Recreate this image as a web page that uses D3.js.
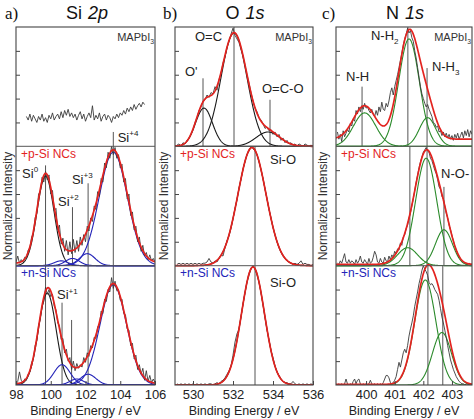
<!DOCTYPE html>
<html><head><meta charset="utf-8">
<script src="https://cdn.jsdelivr.net/npm/d3@7"></script>
<style>body{margin:0;background:#fff}text{font-family:"Liberation Sans",Arial,sans-serif}</style>
</head><body><svg id="c" width="474" height="419"></svg>
<script>
// ---------- DATA ----------
const siTicks = [98, 100, 102, 104, 106];
const oTicks = [530, 532, 534, 536];
const nTicks = [400, 401, 402, 403];

// Si 2p raw spectra (step 0.1 eV)
const siTopStart = 98.6;
const siTopRaw = [.25,.22,.27,.21,.26,.23,.20,.25,.22,.27,
  .21,.24,.20,.26,.23,.28,.22,.25,.27,.23,
  .29,.24,.30,.26,.31,.25,.28,.24,.27,.22,
  .26,.29,.23,.27,.21,.25,.28,.24,.34,.22,
  .26,.23,.28,.21,.25,.27,.22,.26,.24,.20,
  .25,.23,.27,.24,.28,.26,.30,.27,.32,.29,
  .33,.30,.35,.31,.34,.36,.33,.37,.35];
const siStart = 98.0;
const siPRaw = [.03,.08,.02,.05,.03,.07,.06,.13,.15,.24,
  .27,.40,.44,.60,.62,.74,.70,.79,.72,.76,
  .60,.63,.46,.48,.30,.34,.18,.23,.12,.21,
  .09,.20,.10,.22,.11,.21,.12,.24,.17,.26,
  .20,.33,.29,.40,.37,.50,.47,.62,.58,.73,
  .70,.86,.82,.95,.90,1.0,.93,.99,.90,.93,
  .82,.85,.70,.73,.56,.60,.42,.45,.30,.33,
  .20,.24,.12,.17,.08,.11,.05,.09,.04,.06,.03];
const siNRaw = [.01,.03,.11,.04,.02,.05,.04,.09,.11,.19,
  .22,.33,.37,.50,.55,.66,.70,.82,.76,.80,
  .74,.76,.66,.63,.52,.50,.38,.39,.27,.30,
  .20,.23,.13,.20,.12,.18,.14,.17,.15,.23,
  .19,.27,.24,.33,.31,.40,.39,.49,.50,.62,
  .60,.72,.70,.80,.78,.90,.81,.87,.79,.80,
  .71,.72,.60,.59,.47,.46,.33,.35,.22,.25,
  .13,.17,.09,.14,.04,.12,.03,.08,.02,.05,.02];
// Si 2p fitted components
const siPCenters = [99.7, 100.6, 101.25, 102.1, 103.6];
const siPHeights = [0.75, 0.04, 0.06, 0.10, 0.95];
const siPFwhm = [1.15, 0.94, 0.94, 1.06, 1.91];
const siPBase = 0.02;
const siNCenters = [99.8, 100.65, 101.5, 102.15, 103.6];
const siNHeights = [0.77, 0.17, 0.05, 0.09, 0.84];
const siNFwhm = [1.2, 1.1, 0.94, 1.06, 1.79];
const siNBase = 0.01;

// O 1s raw spectra (step 0.1 eV)
const oStart = 529.2;
const oTopRaw = [.01,.02,.00,.03,.02,.05,.07,.10,.14,.20,
  .24,.30,.33,.38,.39,.43,.41,.45,.44,.50,
  .47,.56,.61,.70,.75,.83,.88,.94,.99,.93,
  .90,.87,.81,.76,.68,.60,.53,.45,.38,.32,
  .29,.24,.22,.19,.15,.16,.13,.14,.10,.12,
  .08,.10,.05,.07,.03,.05,.02,.03,.01,.02,
  .00,.02,.01,.00,.02,.01,.00,.01,.00];
const oPRaw = [.01,.02,.01,.02,.01,.02,.01,.02,.01,.02,
  .01,.02,.01,.02,.02,.03,.06,.03,.02,.04,
  .03,.06,.09,.08,.15,.21,.25,.31,.39,.48,
  .55,.65,.72,.81,.87,.93,.96,1.0,.98,.96,
  .93,.87,.80,.73,.64,.56,.47,.40,.32,.26,
  .20,.15,.11,.08,.06,.04,.03,.02,.01,.02,
  .01,.02,.04,.01,.02,.01,.01,.00,.01];
const oNRaw = [.01,.00,.01,.00,.01,.00,.01,.00,.01,.00,
  .01,.00,.01,.00,.01,.00,.01,.01,.00,.01,
  .02,.01,.03,.04,.06,.09,.12,.16,.25,.36,
  .43,.47,.57,.68,.77,.86,.92,.97,1.0,.97,
  .92,.86,.77,.67,.56,.46,.38,.29,.23,.16,
  .11,.08,.05,.03,.02,.02,.01,.01,.03,.01,
  .00,.01,.00,.01,.00,.01,.00,.01,.00];
const oTopCenters = [530.55, 532.05, 533.75];
const oTopHeights = [0.32, 0.95, 0.12];
const oTopFwhm = [1.0, 1.53, 1.41];
const oPCenters = [532.95];
const oPHeights = [0.99];
const oPFwhm = [1.65];
const oNCenters = [533.0];
const oNHeights = [0.99];
const oNFwhm = [1.35];

// N 1s raw spectra (step 0.05 eV)
const nStart = 399.0;
const nTopRaw = [.12,.06,.10,.04,.13,.08,.11,.14,.12,.19,.17,.23,.21,.30,.27,.33,.29,.34,.31,.36,
  .32,.33,.30,.28,.31,.27,.25,.30,.26,.33,.29,.37,.31,.30,.36,.33,.38,.45,.49,.43,
  .50,.55,.60,.66,.72,.78,.85,.90,.94,.99,.95,.97,.91,.88,.80,.74,.66,.58,.50,.44,
  .40,.36,.33,.35,.31,.28,.25,.20,.19,.16,.17,.12,.13,.09,.12,.08,.11,.07,.10,.06,
  .09,.05,.10,.07,.11,.06,.09,.12,.07,.13,.09,.14,.08,.13,.10];
const nPRaw = [.02,.01,.04,.02,.06,.10,.03,.02,.05,.02,.04,.03,.01,.05,.02,.04,.08,.03,.02,.05,
  .03,.01,.06,.02,.03,.07,.12,.09,.03,.02,.06,.03,.02,.07,.04,.03,.08,.05,.09,.07,
  .12,.10,.14,.13,.19,.17,.24,.26,.31,.34,.40,.44,.50,.56,.63,.70,.76,.82,.87,.91,
  .95,.97,.99,.96,.95,.90,.88,.84,.80,.77,.72,.66,.64,.58,.56,.50,.44,.40,.34,.30,
  .25,.21,.16,.13,.10,.07,.06,.04,.03,.02,.02,.01,.02,.01,.01];
const nNRaw = [.00,.01,.00,.01,.00,.01,.05,.01,.00,.01,.00,.03,.05,.01,.04,.05,.01,.00,.01,.00,
  .01,.00,.01,.04,.01,.00,.01,.00,.01,.00,.01,.00,.02,.05,.08,.08,.06,.02,.01,.02,
  .04,.07,.13,.19,.15,.21,.27,.30,.27,.33,.41,.47,.52,.58,.66,.72,.78,.85,.90,.96,
  1.0,.97,.95,.92,.86,.84,.85,.83,.80,.78,.76,.71,.64,.57,.52,.46,.40,.33,.27,.21,
  .17,.13,.10,.07,.05,.03,.02,.01,.01,.00,.01,.00,.01,.00,.00];
const nTopCenters = [399.95, 401.5, 402.15];
const nTopHeights = [0.28, 0.90, 0.24];
const nTopFwhm = [0.92, 0.85, 0.68];
const nTopBase = 0.06;
const nPCenters = [401.45, 402.1, 402.72];
const nPHeights = [0.15, 0.90, 0.30];
const nPFwhm = [0.82, 0.87, 0.70];
const nPBase = 0.01;
const nNCenters = [402.07, 402.65];
const nNHeights = [0.88, 0.44];
const nNFwhm = [0.87, 0.78];
const nNBase = 0.005;

// ---------- DRAWING ----------
const svg = d3.select("#c");
const subTop = [27, 146.3, 265.7], subH = 119.3, frameTop = 27, frameBot = 385;
const RED = "#e3231f", BLUE = "#2323b8", GREEN = "#2b8a2b", BLK = "#1a1a1a";
const gauss = (e, c, h, w) => h * Math.exp(-4 * Math.LN2 * (e - c) * (e - c) / (w * w));

const panels = [
  { id: "a", domain: [98, 106], left: 16, right: 155, ticks: siTicks,
    letter: "a)", letterX: 5, title: ["Si", "2p"], titleX: 87, ylabX: 12,
    subs: [
      { raw: siTopRaw, start: siTopStart, step: 0.1 },
      { raw: siPRaw, start: siStart, step: 0.1, c: siPCenters, h: siPHeights, w: siPFwhm, base: siPBase,
        colors: [BLK, BLUE, BLUE, BLUE, BLUE] },
      { raw: siNRaw, start: siStart, step: 0.1, c: siNCenters, h: siNHeights, w: siNFwhm, base: siNBase,
        colors: [BLK, BLUE, BLUE, BLUE, BLUE] } ],
    vlines: [[0, 103.6, 0.12, 1], [1, 99.7, 0.84, 1], [1, 101.25, 0.49, 1], [1, 102.15, 0.69, 1],
             [2, 99.7, 1, 2], [2, 100.65, 0.69, 2], [2, 101.2, 0.545, 2], [2, 102.15, 1, 2], [2, 103.6, 1, 2]],
    labels: [[0, 103.85, 0.04, [["Si"], ["+4", "sup"]]], [1, 98.35, 0.735, [["Si"], ["0", "sup"]]],
             [1, 100.42, 0.50, [["Si"], ["+2", "sup"]]], [1, 101.22, 0.685, [["Si"], ["+3", "sup"]]],
             [2, 100.36, 0.72, [["Si"], ["+1", "sup"]]]] },
  { id: "b", domain: [529.1, 536], left: 175, right: 313, ticks: oTicks,
    letter: "b)", letterX: 163, title: ["O", "1s"], titleX: 245, ylabX: 168,
    subs: [
      { raw: oTopRaw, start: oStart, step: 0.1, c: oTopCenters, h: oTopHeights, w: oTopFwhm, base: 0, colors: [BLK, BLK, BLK] },
      { raw: oPRaw, start: oStart, step: 0.1, c: oPCenters, h: oPHeights, w: oPFwhm, base: 0, colors: [BLK] },
      { raw: oNRaw, start: oStart, step: 0.1, c: oNCenters, h: oNHeights, w: oNFwhm, base: 0, colors: [BLK] } ],
    vlines: [[0, 530.5, 0.57, 0], [0, 532.05, 1, 0], [0, 533.85, 0.39, 0], [1, 533.1, 1, 1], [2, 533.1, 1, 2]],
    labels: [[0, 530.1, 0.883, [["O=C"]]], [0, 529.6, 0.59, [["O'"]]], [0, 533.45, 0.447, [["O=C-O"]]],
             [1, 533.85, 0.85, [["Si-O"]]], [2, 533.85, 0.82, [["Si-O"]]]] },
  { id: "c", domain: [398.95, 403.7], left: 336, right: 472, ticks: nTicks,
    letter: "c)", letterX: 322, title: ["N", "1s"], titleX: 405, ylabX: 327,
    subs: [
      { raw: nTopRaw, start: nStart, step: 0.05, c: nTopCenters, h: nTopHeights, w: nTopFwhm, base: nTopBase, colors: [GREEN, GREEN, GREEN] },
      { raw: nPRaw, start: nStart, step: 0.05, c: nPCenters, h: nPHeights, w: nPFwhm, base: nPBase, colors: [GREEN, GREEN, GREEN] },
      { raw: nNRaw, start: nStart, step: 0.05, c: nNCenters, h: nNHeights, w: nNFwhm, base: nNBase, colors: [GREEN, GREEN] } ],
    vlines: [[0, 399.86, 0.5, 0], [0, 401.46, 1, 0], [0, 402.13, 0.656, 0], [1, 401.53, 1, 1], [1, 402.13, 1, 1],
             [1, 402.72, 0.66, 1], [2, 402.16, 1, 2], [2, 402.68, 1, 2]],
    labels: [[0, 400.17, 0.89, [["N-H"], ["2", "sub"]]], [0, 399.3, 0.546, [["N-H"]]],
             [0, 402.3, 0.63, [["N-H"], ["3", "sub"]]], [1, 402.62, 0.735, [["N-O-"]]]] }
];

function addSegs(t, segs, size) {
  segs.forEach(s => {
    const sp = t.append("tspan").text(s[0]);
    if (s[1] === "sup") sp.attr("dy", -size * 0.42).attr("font-size", size * 0.62);
    if (s[1] === "sub") sp.attr("dy", size * 0.28).attr("font-size", size * 0.62);
  });
}

panels.forEach(p => {
  const x = d3.scaleLinear().domain(p.domain).range([p.left, p.right]);
  const y = subTop.map(t => d3.scaleLinear().domain([0, 1]).range([t + subH, t]));
  svg.append("clipPath").attr("id", "clip" + p.id).append("rect")
    .attr("x", p.left).attr("y", frameTop).attr("width", p.right - p.left).attr("height", frameBot - frameTop);
  const g = svg.append("g").attr("clip-path", `url(#clip${p.id})`);
  const grid = d3.range(0, 501).map(k => p.domain[0] + k * (p.domain[1] - p.domain[0]) / 500);

  // reference lines
  p.vlines.forEach(l => g.append("line").attr("x1", x(l[1])).attr("x2", x(l[1]))
    .attr("y1", y[l[0]](l[2])).attr("y2", y[l[3]](0)).attr("stroke", "#555").attr("stroke-width", 1));

  p.subs.forEach((s, i) => {
    if (s.c) {
      s.c.forEach((c, j) => {
        g.append("path").attr("fill", "none").attr("stroke", s.colors[j]).attr("stroke-width", 1.1)
          .attr("d", d3.line().x(e => x(e)).y(e => y[i](gauss(e, c, s.h[j], s.w[j])))(grid));
      });
    }
    const pts = s.raw.map((v, k) => [s.start + k * s.step, v]);
    g.append("path").attr("fill", "none").attr("stroke", "#3a3a3a").attr("stroke-width", 0.9)
      .attr("d", d3.line().x(d => x(d[0])).y(d => y[i](d[1]))(pts));
    if (s.c) {
      const fit = e => s.base + d3.sum(s.c, (c, j) => gauss(e, c, s.h[j], s.w[j]));
      g.append("path").attr("fill", "none").attr("stroke", RED).attr("stroke-width", 1.7)
        .attr("d", d3.line().x(e => x(e)).y(e => y[i](fit(e)))(grid));
    }
  });

  // frame and dividers
  svg.append("rect").attr("x", p.left).attr("y", frameTop).attr("width", p.right - p.left)
    .attr("height", frameBot - frameTop).attr("fill", "none").attr("stroke", "#444").attr("stroke-width", 1.1);
  [1, 2].forEach(i => svg.append("line").attr("x1", p.left).attr("x2", p.right)
    .attr("y1", subTop[i]).attr("y2", subTop[i]).attr("stroke", "#555").attr("stroke-width", 1));

  // axes
  const ax = svg.append("g").attr("transform", `translate(0,${frameBot})`)
    .call(d3.axisBottom(x).tickValues(p.ticks).tickSizeInner(-4).tickSizeOuter(0).tickPadding(5).tickFormat(d3.format("d")));
  ax.select(".domain").remove();
  ax.selectAll("line").attr("stroke", "#444");
  ax.selectAll("text").attr("font-size", 13).attr("fill", "#222").attr("font-family", "Liberation Sans, Arial");
  y.forEach(ys => {
    const la = svg.append("g").attr("transform", `translate(${p.left},0)`)
      .call(d3.axisLeft(ys).tickValues([0.2, 0.4, 0.6, 0.8]).tickSizeInner(-4).tickSizeOuter(0).tickFormat(""));
    la.select(".domain").remove();
    la.selectAll("line").attr("stroke", "#444");
  });

  // texts
  svg.append("text").attr("x", (p.left + p.right) / 2).attr("y", 415).attr("text-anchor", "middle")
    .attr("font-size", 12.5).attr("fill", "#222").text("Binding Energy / eV");
  svg.append("text").attr("transform", `translate(${p.ylabX},206) rotate(-90)`).attr("text-anchor", "middle")
    .attr("font-size", 12).attr("fill", "#333").text("Normalized Intensity");
  svg.append("text").attr("x", p.letterX).attr("y", 19).attr("font-size", 17).attr("fill", "#111")
    .style("font-family", "'Liberation Serif', 'Times New Roman', serif").text(p.letter);
  const tt = svg.append("text").attr("x", p.titleX).attr("y", 19).attr("text-anchor", "middle")
    .attr("font-size", 18).attr("fill", "#111");
  tt.append("tspan").text(p.title[0]);
  tt.append("tspan").attr("dx", 6).attr("font-style", "italic").text(p.title[1]);

  const mt = svg.append("text").attr("x", p.right - 1).attr("y", 41).attr("text-anchor", "end")
    .attr("font-size", 11).attr("fill", "#333");
  addSegs(mt, [["MAPbI"], ["3", "sub"]], 11);
  svg.append("text").attr("x", p.left + 5).attr("y", 158).attr("font-size", 12).attr("fill", RED).text("+p-Si NCs");
  svg.append("text").attr("x", p.left + 5).attr("y", 277).attr("font-size", 12).attr("fill", BLUE).text("+n-Si NCs");

  p.labels.forEach(l => {
    const t = svg.append("text").attr("x", x(l[1])).attr("y", y[l[0]](l[2])).attr("font-size", 13).attr("fill", "#222");
    addSegs(t, l[3], 13);
  });
});
</script></body></html>
